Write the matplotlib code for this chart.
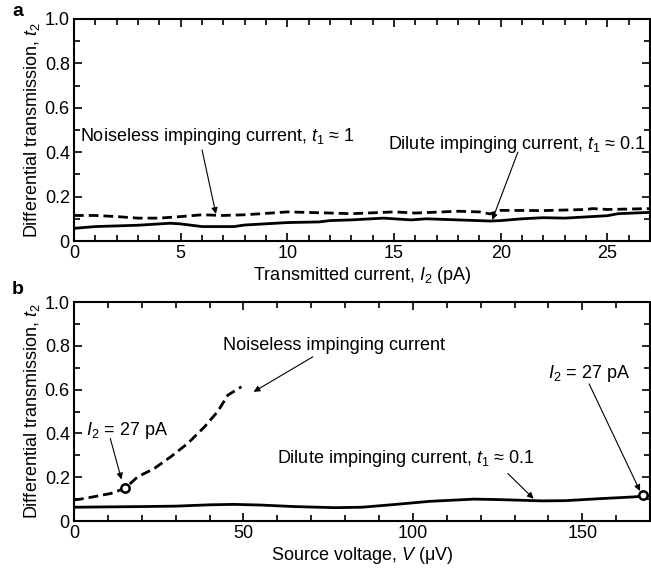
import matplotlib
matplotlib.use('Agg')
import matplotlib.pyplot as plt
from matplotlib.ticker import MultipleLocator, FuncFormatter

plt.rcParams['font.family'] = ['Liberation Sans', 'DejaVu Sans']
plt.rcParams['mathtext.fontset'] = 'custom'
plt.rcParams['mathtext.rm'] = 'Liberation Sans'
plt.rcParams['mathtext.it'] = 'Liberation Sans:italic'

# panel a: t2 vs transmitted current I2 (pA)
a_dilute_x = [0, 1, 3, 4.5, 5, 6, 7.5, 8, 10, 11.5, 12, 13, 14.5, 15, 15.8, 16.5, 19.5, 20, 21, 22, 23, 25, 25.5, 27]
a_dilute_y = [0.057, 0.065, 0.071, 0.08, 0.077, 0.065, 0.065, 0.072, 0.083, 0.086, 0.092, 0.095, 0.103, 0.1,
              0.095, 0.1, 0.09, 0.092, 0.1, 0.105, 0.103, 0.114, 0.123, 0.129]
a_noiseless_x = [0, 1, 2, 3, 4, 5, 6, 7, 8, 10, 12, 13, 15, 16, 18, 19, 19.5, 20, 22, 24, 24.3, 25, 27]
a_noiseless_y = [0.115, 0.115, 0.11, 0.103, 0.103, 0.11, 0.118, 0.115, 0.118, 0.131, 0.126, 0.123, 0.131,
                 0.126, 0.134, 0.131, 0.122, 0.138, 0.137, 0.142, 0.146, 0.142, 0.146]

# panel b: t2 vs source voltage V (uV)
b_dilute_x = [0, 20, 30, 40, 47, 55, 65, 77, 85, 95, 105, 118, 125, 138, 145, 155, 165, 170]
b_dilute_y = [0.063, 0.066, 0.068, 0.074, 0.076, 0.073, 0.066, 0.061, 0.063, 0.076, 0.09, 0.1, 0.098,
              0.092, 0.093, 0.102, 0.11, 0.116]
b_noiseless_x = [0, 1.5, 5.9, 10.9, 15, 18.8, 23.7, 28.6, 33.6, 38.5, 42.4, 45.4, 49.4]
b_noiseless_y = [0.097, 0.099, 0.111, 0.126, 0.149, 0.202, 0.24, 0.294, 0.355, 0.43, 0.5, 0.575, 0.613]
b_marks_x = [15, 168]
b_marks_y = [0.149, 0.118]

fig = plt.figure(figsize=(6.51, 5.68), dpi=100)
ax1 = fig.add_axes([0.1137, 0.5757, 0.885, 0.391])
ax2 = fig.add_axes([0.1137, 0.0827, 0.885, 0.3856])

fs = 13
arrow = dict(arrowstyle='-|>', lw=0.8, color='k', mutation_scale=9, shrinkA=0, shrinkB=0)
yfmt = FuncFormatter(lambda v, p: '0' if abs(v) < 1e-9 else '%.1f' % v)

for ax in (ax1, ax2):
    ax.set_ylim(0, 1.0)
    ax.yaxis.set_major_locator(MultipleLocator(0.2))
    ax.yaxis.set_minor_locator(MultipleLocator(0.1))
    ax.yaxis.set_major_formatter(yfmt)
    ax.tick_params(which='both', direction='in', top=True, right=True, labelsize=fs, pad=3)
    ax.tick_params(which='major', length=6, width=1.2)
    ax.tick_params(which='minor', length=4, width=1.2)
    for s in ax.spines.values():
        s.set_linewidth(1.5)
    ax.set_ylabel('Differential transmission, $t_2$', fontsize=fs, labelpad=2)

ax1.plot(a_noiseless_x, a_noiseless_y, color='k', lw=2, ls=(0, (3.5, 1.8)))
ax1.plot(a_dilute_x, a_dilute_y, color='k', lw=2)
ax1.set_xlim(0, 27)
ax1.xaxis.set_major_locator(MultipleLocator(5))
ax1.xaxis.set_minor_locator(MultipleLocator(1))
ax1.set_xlabel('Transmitted current, $I_2$ (pA)', fontsize=fs, labelpad=2)
ax1.text(0.28, 0.47, 'Noiseless impinging current, $t_1$ ≈ 1', fontsize=fs, va='center')
ax1.annotate('', xy=(6.65, 0.122), xytext=(6.0, 0.41), arrowprops=arrow)
ax1.text(26.8, 0.435, 'Dilute impinging current, $t_1$ ≈ 0.1', fontsize=fs, va='center', ha='right')
ax1.annotate('', xy=(19.6, 0.095), xytext=(20.8, 0.40), arrowprops=arrow)

ax2.plot(b_noiseless_x, b_noiseless_y, color='k', lw=2, ls=(0, (3.5, 1.8)))
ax2.plot(b_dilute_x, b_dilute_y, color='k', lw=2)
ax2.plot(b_marks_x, b_marks_y, 'o', mfc='white', mec='k', mew=1.8, ms=6, clip_on=False, zorder=5)
ax2.set_xlim(0, 170)
ax2.xaxis.set_major_locator(MultipleLocator(50))
ax2.xaxis.set_minor_locator(MultipleLocator(10))
ax2.set_xlabel('Source voltage, $V$ (μV)', fontsize=fs, labelpad=2)
ax2.text(76.7, 0.80, 'Noiseless impinging current', fontsize=fs, va='center', ha='center')
ax2.annotate('', xy=(53, 0.59), xytext=(70.5, 0.75), arrowprops=arrow)
ax2.text(3.6, 0.415, '$I_2$ = 27 pA', fontsize=fs, va='center')
ax2.annotate('', xy=(14, 0.19), xytext=(10.7, 0.377), arrowprops=arrow)
ax2.text(140, 0.675, '$I_2$ = 27 pA', fontsize=fs, va='center')
ax2.annotate('', xy=(167, 0.137), xytext=(152, 0.626), arrowprops=arrow)
ax2.text(60, 0.285, 'Dilute impinging current, $t_1$ ≈ 0.1', fontsize=fs, va='center')
ax2.annotate('', xy=(135.6, 0.102), xytext=(128, 0.217), arrowprops=arrow)

fig.text(12 / 651, 1 - 12 / 568, 'a', fontsize=14, fontweight='bold', va='center')
fig.text(12 / 651, 1 - 290 / 568, 'b', fontsize=14, fontweight='bold', va='center')

fig.savefig('out.png', dpi=100)
